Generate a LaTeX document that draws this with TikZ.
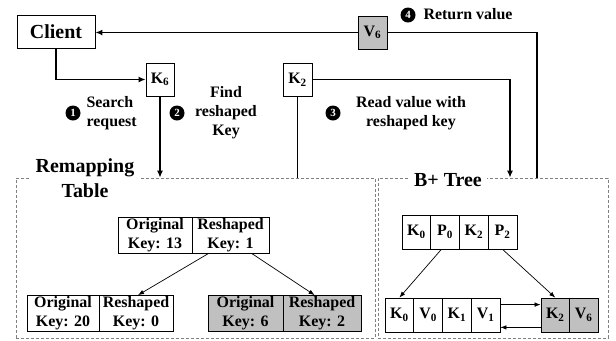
\documentclass[tikz,border=0pt]{standalone}
\usepackage{fontspec}
\setmainfont{Liberation Serif}
\usetikzlibrary{arrows.meta,calc}
\definecolor{shade}{HTML}{C0C0C0}
\definecolor{dgray}{HTML}{808080}
\begin{document}
\begin{tikzpicture}[x=1bp,y=-1bp,
  every node/.style={font=\bfseries\fontsize{16}{19}\selectfont},
  box/.style={draw, line width=0.8bp, inner sep=0pt},
  cell/.style={box, minimum height=36bp, align=center},
  bcell/.style={box, minimum height=34bp, minimum width=28.75bp},
  conn/.style={line width=1.5bp, -{Latex[length=7bp,width=6bp]}},
  plain/.style={line width=1.5bp},
  thinarr/.style={line width=0.7bp, -{Latex[length=6bp,width=4.5bp]}},
  dbox/.style={draw=dgray, dash pattern=on 3bp off 2bp, line width=0.7bp, inner sep=0pt},
  num/.style={circle, fill=black, text=white, inner sep=0pt, minimum size=15bp, font=\bfseries\fontsize{11}{11}\selectfont},
  ttl/.style={fill=white, align=center, inner xsep=5bp, inner ysep=0pt, font=\bfseries\fontsize{20}{25}\selectfont}
]
\useasboundingbox (0,0) rectangle (616,340);

% dashed containers
\node[dbox, minimum width=359bp, minimum height=160bp] (remap) at (195.5,258) {};
\node[dbox, minimum width=230bp, minimum height=160bp] (bplus) at (493,258) {};
\node[ttl] (rtl) at (85,178) {Remapping\\Table};
\node[ttl] (btl) at (448,180) {B+ Tree};

% top-level nodes
\node[box, minimum width=78bp, minimum height=33bp, font=\bfseries\fontsize{20}{22}\selectfont] (client) at (56,32) {Client};
\node[box, minimum width=28bp, minimum height=33bp] (k6) at (160,79.5) {K\textsubscript{6}};
\node[box, minimum width=29bp, minimum height=33bp] (k2) at (297.5,79.5) {K\textsubscript{2}};
\node[box, fill=shade, minimum width=29bp, minimum height=33bp] (v6) at (372.5,32.5) {V\textsubscript{6}};

\coordinate (rd) at ([xshift=17bp]bplus.north);
\coordinate (rt) at ([xshift=44bp]bplus.north);

% connectors
\draw[conn] (client.south) |- (k6.west);
\draw[conn] (k6.south) -- (k6.south |- remap.north);
\draw[plain] (k2.south) -- (k2.south |- remap.north);
\draw[conn] (k2.east) -| (rd);
\draw[plain] (rt) |- (v6.east);
\draw[conn] (v6.west) -- (v6.west -| client.east);

% step labels
\node[num] (n1) at (73,113) {1};
\node[align=left, anchor=west] (l1) at (83,113) {Search\\request};
\node[num] (n2) at (177,113) {2};
\node[align=center] (l2) at (226,113) {Find\\reshaped\\Key};
\node[num] (n3) at (333,113) {3};
\node[align=center] (l3) at (411,113) {Read value with\\reshaped key};
\node[num] (n4) at (408,15) {4};
\node[anchor=west] (l4) at (420,14) {Return value};

% remapping table tree
\node[cell, minimum width=74bp] (ta) at (155,235) {Original\\Key: 13};
\node[cell, minimum width=77bp] (tb) at (230.5,235) {Reshaped\\Key: 1};
\node[cell, minimum width=72bp] (la) at (63,313.5) {Original\\Key: 20};
\node[cell, minimum width=74bp] (lb) at (136,313.5) {Reshaped\\Key: 0};
\node[cell, fill=shade, minimum width=75bp] (ra) at (245.5,313.5) {Original\\Key: 6};
\node[cell, fill=shade, minimum width=78bp] (rb) at (322,313.5) {Reshaped\\Key: 2};
\draw[thinarr] ([xshift=17bp]tb.south west) -- ([xshift=2bp]lb.north);
\draw[thinarr] ([xshift=60bp]tb.south west) -- ([xshift=32bp]rb.north west);

% B+ tree
\node[bcell] (bk0) at (416.4,232) {K\textsubscript{0}};
\node[bcell] (bp0) at (445.1,232) {P\textsubscript{0}};
\node[bcell] (bk2) at (473.9,232) {K\textsubscript{2}};
\node[bcell] (bp2) at (502.6,232) {P\textsubscript{2}};
\node[bcell] (lk0) at (399.4,315) {K\textsubscript{0}};
\node[bcell] (lv0) at (428.1,315) {V\textsubscript{0}};
\node[bcell] (lk1) at (456.9,315) {K\textsubscript{1}};
\node[bcell] (lv1) at (485.6,315) {V\textsubscript{1}};
\node[bcell, fill=shade, minimum width=28.5bp] (rk2) at (555.25,315) {K\textsubscript{2}};
\node[bcell, fill=shade, minimum width=28.5bp] (rv6) at (583.75,315) {V\textsubscript{6}};
\draw[thinarr] ([xshift=11bp]bp0.south west) -- (lk0.north);
\draw[thinarr] (bp2.south) -- (rk2.north);
\draw[thinarr] ([yshift=-7bp]lv1.north east) -- ([yshift=-7bp]rk2.north west);
\draw[thinarr] ([yshift=5bp]rk2.south west) -- ([yshift=5bp]lv1.south east);
\end{tikzpicture}
\end{document}
